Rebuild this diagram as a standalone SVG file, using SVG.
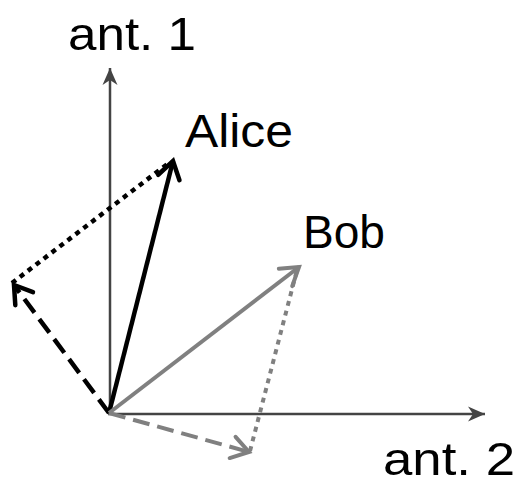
<svg xmlns="http://www.w3.org/2000/svg" width="523" height="485" viewBox="0 0 523 485">
<style>
.lbl{font-family:"Liberation Sans",Arial,sans-serif;font-size:46px;fill:#000}
.axis{stroke:#444;stroke-width:2.5;fill:none}
.blk{stroke:#000;stroke-width:4.5;fill:none}
.gry{stroke:#808080;stroke-width:4;fill:none}
.dash{stroke-dasharray:17 8}
.dot{stroke-dasharray:5 5}
</style>
<defs>
<marker id="ax" markerUnits="userSpaceOnUse" viewBox="-18 -9 20 18" refX="0" refY="0" markerWidth="20" markerHeight="18" orient="auto">
<path d="M0,0 L-17,-7.5 L-12,0 L-17,7.5 Z" fill="#444"/>
</marker>
<marker id="hb" markerUnits="userSpaceOnUse" viewBox="-22 -14 26 28" refX="0" refY="0" markerWidth="26" markerHeight="28" orient="auto">
<path d="M-17,-11 L0,0 L-17,11" fill="none" stroke="#000" stroke-width="4.5" stroke-linecap="round" stroke-linejoin="miter"/>
</marker>
<marker id="hg" markerUnits="userSpaceOnUse" viewBox="-22 -14 26 28" refX="0" refY="0" markerWidth="26" markerHeight="28" orient="auto">
<path d="M-17,-11 L0,0 L-17,11" fill="none" stroke="#808080" stroke-width="4" stroke-linecap="round" stroke-linejoin="miter"/>
</marker>
</defs>
<g id="connectors">
<line class="axis" x1="110" y1="414" x2="110" y2="68" marker-end="url(#ax)"/>
<line class="axis" x1="108" y1="414" x2="485" y2="414" marker-end="url(#ax)"/>
<line class="blk dot" x1="12" y1="283" x2="170" y2="162"/>
<line class="blk dash" x1="109" y1="413" x2="14" y2="285" marker-end="url(#hb)"/>
<line class="blk" x1="109" y1="413" x2="173" y2="161" marker-end="url(#hb)"/>
<line class="gry dot" x1="250" y1="451" x2="297" y2="270"/>
<line class="gry dash" x1="109" y1="413" x2="249" y2="452" marker-end="url(#hg)"/>
<line class="gry" x1="109" y1="413" x2="299" y2="267" marker-end="url(#hg)"/>
</g>
<g id="ant1"><text class="lbl" x="68" y="50" textLength="128" lengthAdjust="spacingAndGlyphs">ant. 1</text></g>
<g id="ant2"><text class="lbl" x="383" y="475" textLength="132" lengthAdjust="spacingAndGlyphs">ant. 2</text></g>
<g id="alice"><text class="lbl" x="185" y="147" textLength="108" lengthAdjust="spacingAndGlyphs">Alice</text></g>
<g id="bob"><text class="lbl" x="303" y="248" textLength="82" lengthAdjust="spacingAndGlyphs">Bob</text></g>
</svg>
